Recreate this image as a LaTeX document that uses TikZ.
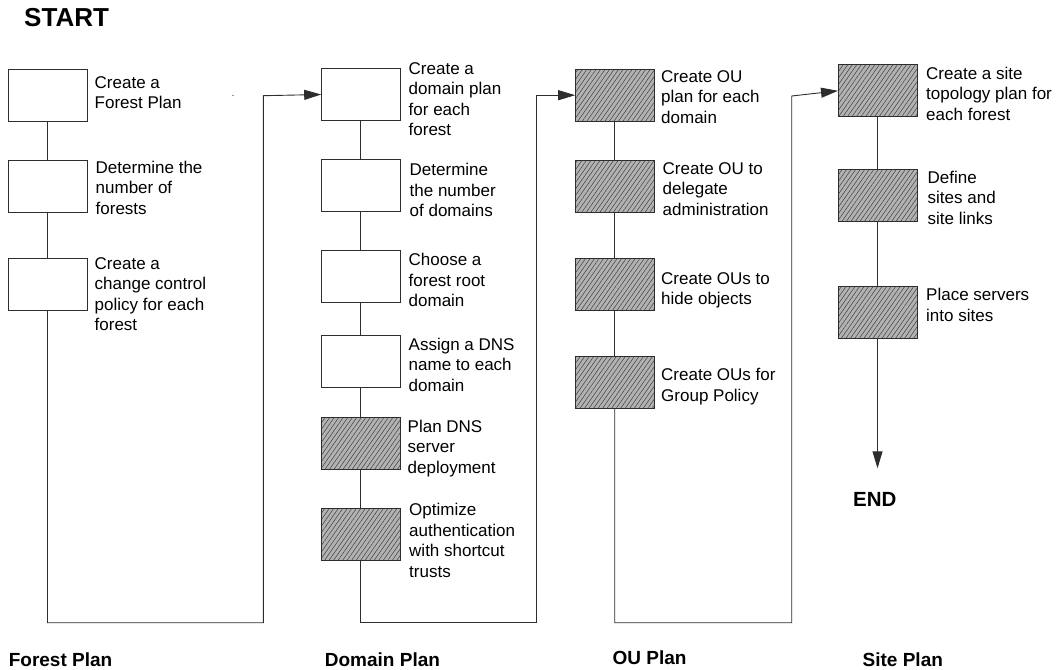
\documentclass[tikz,border=0pt]{standalone}
\usepackage{fontspec}
\setmainfont{Liberation Sans}
\usetikzlibrary{arrows.meta,patterns.meta}
\definecolor{edge}{RGB}{45,45,45}
\definecolor{hatchbg}{RGB}{178,178,178}
\definecolor{hatchln}{RGB}{70,70,70}
\tikzset{
  stepbox/.style={draw=edge, line width=0.9pt, minimum width=79pt, minimum height=52pt, inner sep=0pt, outer sep=0pt},
  hatched/.style={stepbox, preaction={fill=hatchbg}, pattern={Lines[angle=55,distance=3.7pt,line width=0.55pt]}, pattern color=hatchln},
  desc/.style={anchor=north west, inner sep=0pt, align=left, font=\fontsize{17}{20.5}\selectfont},
  title/.style={anchor=base west, inner sep=0pt, font=\bfseries\fontsize{19}{22}\selectfont},
  link/.style={draw=edge, line width=0.9pt, line join=miter},
  flow/.style={link, -{Triangle[length=17pt,width=10pt]}},
}
\begin{document}
\begin{tikzpicture}[x=1pt,y=-1pt]
\useasboundingbox (0,0) rectangle (1056,669);

% headings
\node[anchor=base west, inner sep=0pt, font=\bfseries\fontsize{26}{30}\selectfont] (start) at (24,26.7) {START};
\node[anchor=base west, inner sep=0pt, font=\bfseries\fontsize{20.5}{24}\selectfont] (endlbl) at (853,506) {END};
\node[title] (lf) at (8.6,666.7) {Forest Plan};
\node[title] (ld) at (324.7,666.7) {Domain Plan};
\node[title] (lo) at (612.5,664) {OU Plan};
\node[title] (ls) at (862.5,666.7) {Site Plan};

% forest plan
\node[stepbox] (f1) at (47.5,95) {};
\node[stepbox] (f2) at (47.5,186) {};
\node[stepbox] (f3) at (47.5,284) {};
\node[desc] (tf1) at (94.5,73.5) {\strut Create a\\Forest Plan};
\node[desc] (tf2) at (95.5,158.5) {\strut Determine the\\number of\\forests};
\node[desc] (tf3) at (94.5,254.5) {\strut Create a\\change control\\policy for each\\forest};

% domain plan
\node[stepbox] (d1) at (360.7,94.5) {};
\node[stepbox] (d2) at (360.7,185.8) {};
\node[stepbox] (d3) at (360.7,276.3) {};
\node[stepbox] (d4) at (360.7,361.8) {};
\node[hatched] (d5) at (360.7,443.3) {};
\node[hatched] (d6) at (360.7,534.5) {};
\node[desc] (td1) at (408.5,59.5) {\strut Create a\\domain plan\\for each\\forest};
\node[desc] (td2) at (409.5,161) {\strut Determine\\the number\\of domains};
\node[desc] (td3) at (408.5,251) {\strut Choose a\\forest root\\domain};
\node[desc] (td4) at (408.5,335.5) {\strut Assign a DNS\\name to each\\domain};
\node[desc] (td5) at (407.5,417.5) {\strut Plan DNS\\server\\deployment};
\node[desc] (td6) at (409,501) {\strut Optimize\\authentication\\with shortcut\\trusts};

% OU plan
\node[hatched] (o1) at (614.7,95.2) {};
\node[hatched] (o2) at (614.7,186.7) {};
\node[hatched] (o3) at (614.7,284.3) {};
\node[hatched] (o4) at (614.7,382) {};
\node[desc] (to1) at (661,67.5) {\strut Create OU\\plan for each\\domain};
\node[desc] (to2) at (662.5,159.5) {\strut Create OU to\\delegate\\administration};
\node[desc] (to3) at (661,269.5) {\strut Create OUs to\\hide objects};
\node[desc] (to4) at (661,366) {\strut Create OUs for\\Group Policy};

% site plan
\node[hatched] (s1) at (877.5,90.8) {};
\node[hatched] (s2) at (877.5,195.3) {};
\node[hatched] (s3) at (877.5,312.2) {};
\node[desc] (ts1) at (926,64.5) {\strut Create a site\\topology plan for\\each forest};
\node[desc] (ts2) at (927.5,168.5) {\strut Define\\sites and\\site links};
\node[desc] (ts3) at (926,286) {\strut Place servers\\into sites};

% connectors
\draw[link] (f1) -- (f2);
\draw[link] (f2) -- (f3);
\coordinate (fA) at (47.5,622.7);
\coordinate (fB) at (263.3,622.7);
\coordinate (fC) at (263.3,95.7);
\draw[flow] (f3.south) -- (fA) -- (fB) -- (fC) -- (d1.west);

\draw[link] (d1) -- (d2);
\draw[link] (d2) -- (d3);
\draw[link] (d3) -- (d4);
\draw[link] (d4) -- (d5);
\draw[link] (d5) -- (d6);
\coordinate (dA) at (360.7,622.7);
\coordinate (dB) at (536.7,622.7);
\coordinate (dC) at (536.7,95.2);
\draw[flow] (d6.south) -- (dA) -- (dB) -- (dC) -- (o1.west);

\draw[link] (o1) -- (o2);
\draw[link] (o2) -- (o3);
\draw[link] (o3) -- (o4);
\coordinate (oA) at (614.7,622.7);
\coordinate (oB) at (791.7,622.7);
\coordinate (oC) at (791.7,96);
\draw[flow] (o4.south) -- (oA) -- (oB) -- (oC) -- (s1.west);

\draw[link] (s1) -- (s2);
\draw[link] (s2) -- (s3);
\coordinate (sEnd) at (877.5,468.3);
\draw[flow] (s3.south) -- (sEnd);

% stray dot
\fill[edge] (233,95.5) circle (0.7);
\end{tikzpicture}
\end{document}
